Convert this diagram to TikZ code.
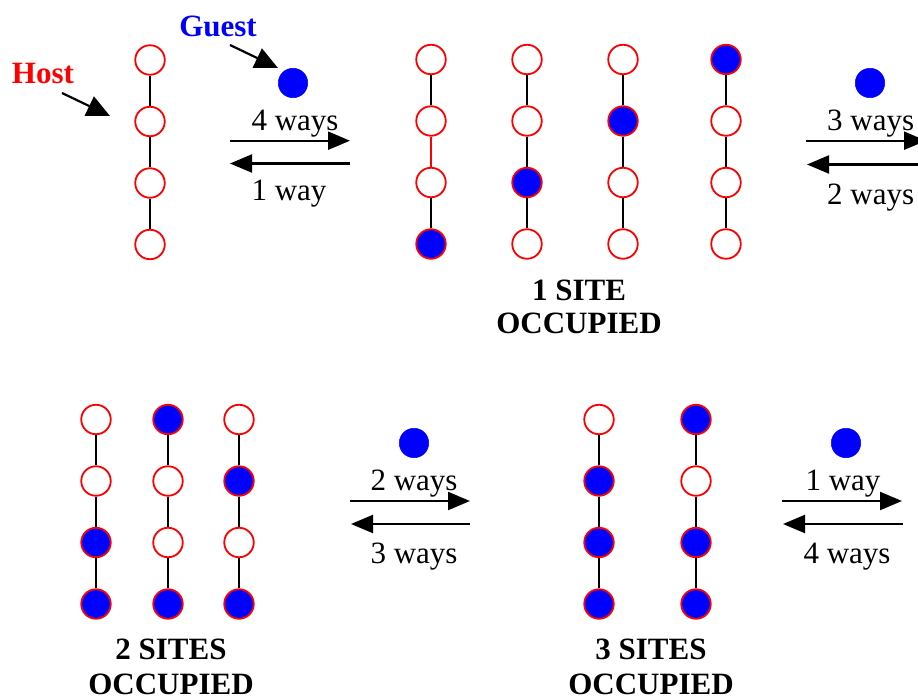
\documentclass[tikz,border=0pt]{standalone}
\usepackage{fontspec}
\setmainfont{Liberation Serif}
\usetikzlibrary{arrows.meta}
\definecolor{gblue}{RGB}{0,0,255}
\definecolor{hred}{RGB}{255,0,0}
\tikzset{
  site/.style={circle, draw=hred, line width=1.8pt, minimum size=29.5pt, inner sep=0pt, fill=#1},
  guest/.style={circle, fill=gblue, draw=gblue, line width=0.5pt, minimum size=29.5pt, inner sep=0pt},
  chainline/.style={draw=black, line width=1.8pt},
  xarrow/.style={draw=black, line width=2.2pt, -{Triangle[length=22pt,width=18pt]}},
  parrow/.style={draw=black, line width=2.2pt, -{Triangle[length=23pt,width=21pt]}},
  txt/.style={anchor=base, inner sep=0pt, font=\fontsize{31}{33}\selectfont},
  btxt/.style={anchor=base, inner sep=0pt, font=\fontsize{31}{33}\selectfont\bfseries, align=center},
}
\newcommand\mychain[7]{%
  \foreach \r/\f in {1/#4,2/#5,3/#6,4/#7}{%
    \node[site=\f] (#1-\r) at (#2, {#3+61.5*(\r-1)}) {};
  }%
  \draw[chainline] (#1-1) -- (#1-2);
  \draw[chainline] (#1-2) -- (#1-3);
  \draw[chainline] (#1-3) -- (#1-4);
}
\begin{document}
\begin{tikzpicture}[x=1pt, y=-1pt]
\useasboundingbox (0,0) rectangle (918,698);
% ---------- top row ----------
\mychain{h}{150}{60}{white}{white}{white}{white}
\mychain{ta}{431}{59.5}{white}{white}{white}{gblue}
\mychain{tb}{527}{59.5}{white}{white}{gblue}{white}
\mychain{tc}{623}{59.5}{white}{gblue}{white}{white}
\mychain{td}{726}{59.5}{gblue}{white}{white}{white}
\draw[chainline, draw=hred] (ta-2) -- (ta-3);

\node[btxt, text=hred] (hostlbl) at (43,84) {Host};
\node[btxt, text=gblue] (guestlbl) at (218,37) {Guest};
\coordinate (hostfrom) at (62,93);
\coordinate (hostto) at (110,116);
\coordinate (guestfrom) at (230,45);
\coordinate (guestto) at (278,68);
\draw[parrow] (hostfrom) -- (hostto);
\draw[parrow] (guestfrom) -- (guestto);

\node[guest] (g1) at (293,83) {};
\node[txt] (w1a) at (295,131) {4 ways};
\node[txt] (w1b) at (289,200) {1 way};
\coordinate (a1s) at (230,140.7);
\coordinate (a1e) at (350,140.7);
\coordinate (b1s) at (350,163.5);
\coordinate (b1e) at (230,163.5);
\draw[xarrow] (a1s) -- (a1e);
\draw[xarrow] (b1s) -- (b1e);

\node[btxt] (lab1) at (579,300) {1 SITE};
\node[btxt] (lab1b) at (579,333) {OCCUPIED};

\node[guest] (g2) at (870,83) {};
\node[txt, anchor=base west] (w2a) at (827,131) {3 ways};
\node[txt, anchor=base west] (w2b) at (827,204) {2 ways};
\coordinate (a2s) at (806,140.7);
\coordinate (a2e) at (926,140.7);
\coordinate (b2s) at (927,164.5);
\coordinate (b2e) at (807,164.5);
\draw[xarrow] (a2s) -- (a2e);
\draw[xarrow] (b2s) -- (b2e);

% ---------- bottom row ----------
\mychain{ba}{96}{419.5}{white}{white}{gblue}{gblue}
\mychain{bb}{168}{419.5}{gblue}{white}{white}{gblue}
\mychain{bc}{239}{419.5}{white}{gblue}{white}{gblue}
\node[btxt] (lab2) at (171,659) {2 SITES};
\node[btxt] (lab2b) at (171,694) {OCCUPIED};

\node[guest] (g3) at (414,443) {};
\node[txt] (w3a) at (414,490) {2 ways};
\node[txt] (w3b) at (414,563) {3 ways};
\coordinate (a3s) at (350,501);
\coordinate (a3e) at (470,501);
\coordinate (b3s) at (470,524);
\coordinate (b3e) at (351,524);
\draw[xarrow] (a3s) -- (a3e);
\draw[xarrow] (b3s) -- (b3e);

\mychain{da}{599}{419.5}{white}{gblue}{gblue}{gblue}
\mychain{db}{696}{419.5}{gblue}{white}{gblue}{gblue}
\node[btxt] (lab3) at (651,659) {3 SITES};
\node[btxt] (lab3b) at (651,694) {OCCUPIED};

\node[guest] (g4) at (846,443) {};
\node[txt] (w4a) at (843,490) {1 way};
\node[txt] (w4b) at (847,563) {4 ways};
\coordinate (a4s) at (782,501);
\coordinate (a4e) at (902,501);
\coordinate (b4s) at (903,524);
\coordinate (b4e) at (783,524);
\draw[xarrow] (a4s) -- (a4e);
\draw[xarrow] (b4s) -- (b4e);
\end{tikzpicture}
\end{document}
